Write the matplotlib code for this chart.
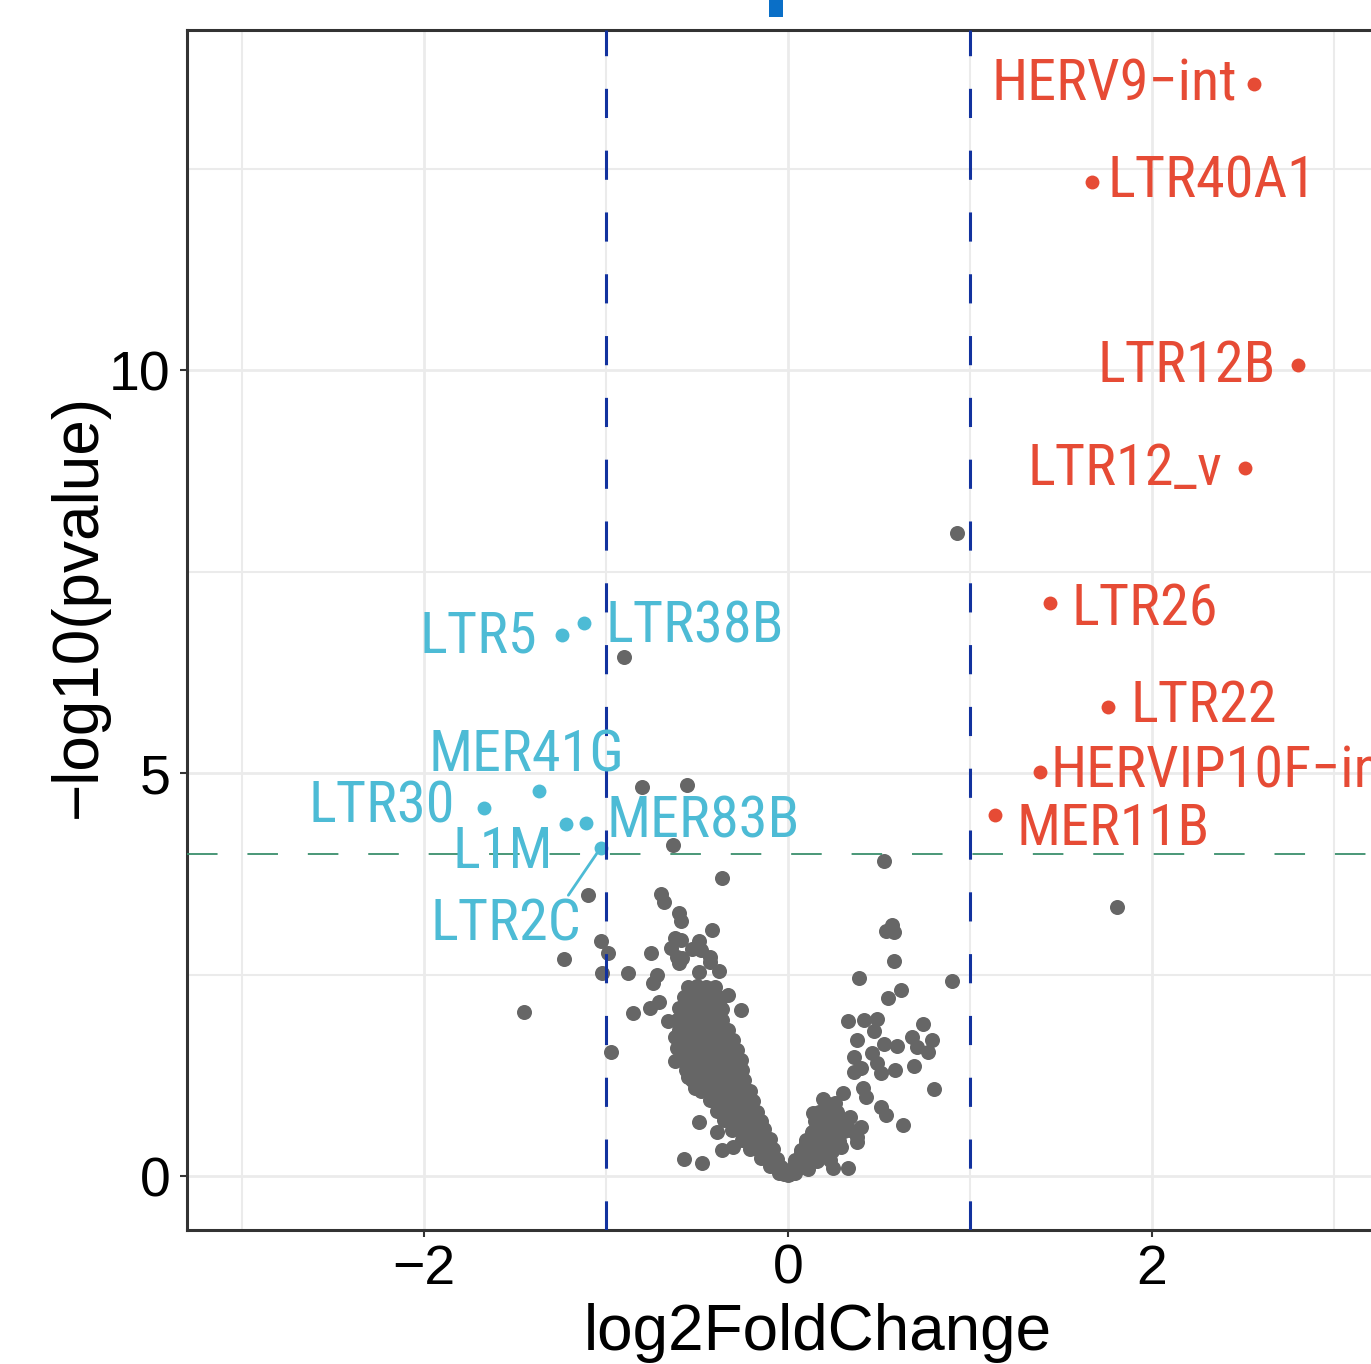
import matplotlib
matplotlib.use("Agg")
import matplotlib.pyplot as plt
from matplotlib import font_manager
from matplotlib.font_manager import FontProperties
from matplotlib.patches import Rectangle

# ---------------- data ----------------
# scattered non-significant points (log2FoldChange, -log10 p)
ns_x = [-0.90, -0.80, -0.555, -0.63, -0.36, -1.10, 0.53,
        -0.70, -0.68, -0.60, -0.59, -0.42, -0.62, -0.59, -0.64, -0.61, -0.58,
        -0.49, -0.53, -0.48, -0.43, -1.03, -0.99, -1.23, -0.75, -1.02, -0.88,
        -0.72, -0.74, -0.49, -0.38, -1.45, -0.85, -0.76, -0.71, -0.66, -0.26,
        -0.33, -0.97, -0.62, -0.61, -0.62, -0.49, -0.57, -0.47, -0.36, -0.30,
        -0.55, -0.51, -0.39, -0.60, -0.43,
        0.93, 1.81, 0.57, 0.54, 0.58, 0.58, 0.39, 0.90, 0.62, 0.55, 0.33, 0.42,
        0.49, 0.47, 0.74, 0.38, 0.53, 0.60, 0.68, 0.71, 0.79, 0.77, 0.36, 0.46,
        0.40, 0.49, 0.51, 0.36, 0.59, 0.69, 0.80, 0.41, 0.30, 0.43, 0.19, 0.51,
        0.54, 0.63, 0.34, 0.40, 0.38, 0.25, 0.33, 0.38, 0.14, 0.23, 0.27, 0.16,
        0.10, 0.07, 0.04, 0.19, 0.29, 0.14, 0.23, 0.34]
ns_y = [6.44, 4.83, 4.85, 4.11, 3.70, 3.49, 3.91,
        3.50, 3.40, 3.26, 3.16, 3.05, 2.95, 2.93, 2.83, 2.72, 2.70,
        2.92, 2.82, 2.80, 2.72, 2.92, 2.77, 2.69, 2.77, 2.52, 2.52,
        2.49, 2.39, 2.53, 2.54, 2.03, 2.02, 2.08, 2.16, 1.92, 2.06,
        2.25, 1.54, 1.72, 1.59, 1.43, 0.67, 0.21, 0.16, 0.32, 0.36,
        1.23, 1.09, 0.55, 2.64, 2.66,
        7.98, 3.34, 3.11, 3.04, 3.03, 2.67, 2.46, 2.42, 2.31, 2.21, 1.92, 1.94,
        1.95, 1.80, 1.89, 1.69, 1.64, 1.61, 1.72, 1.60, 1.69, 1.54, 1.48, 1.53,
        1.34, 1.40, 1.28, 1.29, 1.32, 1.36, 1.08, 1.09, 1.03, 0.98, 0.96, 0.86,
        0.76, 0.63, 0.73, 0.61, 0.42, 0.10, 0.10, 0.48, 0.78, 0.82, 0.61, 0.57,
        0.45, 0.32, 0.20, 0.36, 0.36, 0.24, 0.20, 0.57]

# dense core of the down-regulated arm
core_left_x = [-0.55, -0.50, -0.45, -0.40,
               -0.57, -0.52, -0.47, -0.42, -0.37,
               -0.60, -0.55, -0.50, -0.45, -0.40, -0.36,
               -0.61, -0.56, -0.51, -0.46, -0.41, -0.36,
               -0.60, -0.55, -0.50, -0.45, -0.40, -0.35, -0.33,
               -0.59, -0.54, -0.49, -0.44, -0.39, -0.34, -0.30,
               -0.59, -0.54, -0.49, -0.44, -0.38, -0.33, -0.28,
               -0.58, -0.53, -0.47, -0.42, -0.37, -0.31, -0.26,
               -0.56, -0.51, -0.46, -0.40, -0.35, -0.30, -0.25,
               -0.53, -0.48, -0.43, -0.38, -0.33, -0.28, -0.24,
               -0.48, -0.43, -0.38, -0.33, -0.28, -0.24, -0.21,
               -0.43, -0.38, -0.33, -0.29, -0.24, -0.19,
               -0.39, -0.34, -0.30, -0.26, -0.21, -0.17,
               -0.35, -0.31, -0.27, -0.23, -0.19, -0.15,
               -0.31, -0.27, -0.23, -0.18, -0.13,
               -0.25, -0.21, -0.17, -0.13, -0.10,
               -0.21, -0.17, -0.13, -0.08,
               -0.15, -0.11, -0.06,
               -0.10, -0.07, -0.04,
               -0.05, -0.02, 0.00]
core_left_y = [2.35, 2.36, 2.34, 2.35,
               2.22, 2.21, 2.23, 2.22, 2.21,
               2.08, 2.09, 2.07, 2.08, 2.09, 2.07,
               1.94, 1.95, 1.93, 1.94, 1.95, 1.93,
               1.81, 1.82, 1.80, 1.81, 1.82, 1.80, 1.81,
               1.69, 1.70, 1.68, 1.69, 1.70, 1.68, 1.69,
               1.56, 1.57, 1.55, 1.56, 1.57, 1.55, 1.56,
               1.44, 1.45, 1.43, 1.44, 1.45, 1.43, 1.44,
               1.31, 1.32, 1.30, 1.31, 1.32, 1.30, 1.31,
               1.19, 1.20, 1.18, 1.19, 1.20, 1.18, 1.19,
               1.06, 1.07, 1.05, 1.06, 1.07, 1.05, 1.06,
               0.94, 0.95, 0.93, 0.94, 0.95, 0.93,
               0.81, 0.82, 0.80, 0.81, 0.82, 0.80,
               0.69, 0.70, 0.68, 0.69, 0.70, 0.68,
               0.57, 0.58, 0.56, 0.57, 0.58,
               0.45, 0.46, 0.44, 0.45, 0.46,
               0.33, 0.34, 0.32, 0.33,
               0.22, 0.23, 0.21,
               0.12, 0.13, 0.11,
               0.04, 0.03, 0.01]

# dense core of the up-regulated arm
core_right_x = [0.01, 0.04,
                0.03, 0.07, 0.11,
                0.04, 0.08, 0.12, 0.16,
                0.07, 0.11, 0.15, 0.19, 0.24,
                0.10, 0.14, 0.19, 0.23, 0.28,
                0.13, 0.17, 0.22, 0.27, 0.31,
                0.15, 0.20, 0.25, 0.30,
                0.17, 0.22, 0.27,
                0.21, 0.26]
core_right_y = [0.03, 0.04,
                0.10, 0.11, 0.09,
                0.19, 0.18, 0.20, 0.19,
                0.30, 0.31, 0.29, 0.30, 0.31,
                0.42, 0.43, 0.41, 0.42, 0.43,
                0.55, 0.56, 0.54, 0.55, 0.56,
                0.68, 0.69, 0.67, 0.68,
                0.80, 0.81, 0.79,
                0.90, 0.91]

# significantly up-regulated (labelled)
up_names = ["HERV9\u2212int", "LTR40A1", "LTR12B", "LTR12_v", "LTR26",
            "LTR22", "HERVIP10F\u2212int", "MER11B"]
up_x = [2.56, 1.67, 2.80, 2.51, 1.44, 1.76, 1.385, 1.14]
up_y = [13.55, 12.33, 10.06, 8.78, 7.11, 5.82, 5.01, 4.48]

# significantly down-regulated (labelled)
down_names = ["LTR5", "LTR38B", "MER41G", "LTR30", "L1M", "MER83B", "LTR2C"]
down_x = [-1.24, -1.12, -1.37, -1.67, -1.22, -1.11, -1.03]
down_y = [6.71, 6.86, 4.78, 4.57, 4.37, 4.38, 4.07]

fc_cut = 1.0
p_cut = 4.0

x_ticks = [-2, 0, 2]
y_ticks = [0, 5, 10]

# ---------------- style ----------------
plt.rcParams['font.family'] = ['Liberation Sans', 'DejaVu Sans']
plt.rcParams['lines.scale_dashes'] = False

# find a narrow / condensed sans face for the point labels
def pick_condensed():
    prefs = ['Liberation Sans Narrow', 'Arial Narrow', 'Roboto Condensed',
             'Noto Sans Condensed', 'Open Sans Condensed', 'Noto Sans',
             'Roboto', 'Open Sans', 'DejaVu Sans']
    cands = []
    for f in font_manager.fontManager.ttflist:
        if f.style != 'normal':
            continue
        if f.weight not in (400, 'normal', 'regular', 'book'):
            continue
        nm = f.name
        fn = f.fname.lower()
        condensed = (f.stretch in ('condensed', 'semi-condensed',
                                   'extra-condensed', 'ultra-condensed')
                     or 'narrow' in nm.lower() or 'condensed' in nm.lower()
                     or 'narrow' in fn or ('condensed' in fn and 'semi' not in fn
                                           and 'extra' not in fn))
        if not condensed:
            continue
        if 'mono' in nm.lower() or 'serif' in nm.lower() and 'sans' not in nm.lower():
            continue
        rank = len(prefs)
        for i, p in enumerate(prefs):
            if nm.startswith(p):
                rank = i
                break
        cands.append((rank, f.fname))
    if cands:
        cands.sort()
        return FontProperties(fname=cands[0][1])
    return FontProperties(family=['Liberation Sans', 'DejaVu Sans'])

RED = '#E64B35'
CYAN = '#4DBBD5'
GRAY = '#666666'

W, H = 1371, 1364
fig = plt.figure(figsize=(W / 100, H / 100), dpi=100)
renderer = fig.canvas.get_renderer()

lab_fp = pick_condensed()
# size the label font so that "LTR40A1" is about as wide as in the reference
probe = fig.text(0, 0, "LTR40A1", fontproperties=lab_fp, fontsize=20)
wid = probe.get_window_extent(renderer).width
probe.remove()
lab_size = min(46.0, 20.0 * 209.0 / wid)
lab_fp.set_size(lab_size)

ax = fig.add_axes([187 / W, 1 - 1230 / H, 1201.6 / W, 1200 / H])
ax.set_xlim(-3.302, 3.30)
ax.set_ylim(-0.67, 14.22)

ax.set_axisbelow(True)
ax.set_xticks(x_ticks)
ax.set_yticks(y_ticks)
ax.set_xticks([-3, -1, 1, 3], minor=True)
ax.set_yticks([2.5, 7.5, 12.5], minor=True)
ax.grid(which='major', color='#EBEBEB', lw=2.0)
ax.grid(which='minor', color='#EBEBEB', lw=1.5)
ax.tick_params(which='minor', length=0)
ax.tick_params(which='major', length=5, width=1.5, color='#333333',
               labelsize=40, labelcolor='black')
ax.tick_params(axis='x', pad=5)
ax.tick_params(axis='y', pad=7)
for s in ax.spines.values():
    s.set_color('#333333')
    s.set_linewidth(2.2)

# points
ax.scatter(core_left_x, core_left_y, s=117, color=GRAY, linewidths=0, zorder=2)
ax.scatter(core_right_x, core_right_y, s=117, color=GRAY, linewidths=0, zorder=2)
ax.scatter(ns_x, ns_y, s=117, color=GRAY, linewidths=0, zorder=2)
ax.scatter(up_x, up_y, s=100, color=RED, linewidths=0, zorder=3)
ax.scatter(down_x, down_y, s=100, color=CYAN, linewidths=0, zorder=3)

# threshold lines
for v in (-fc_cut, fc_cut):
    ax.axvline(v, color='#12329e', lw=2.2, ls=(0, (21, 23.5)), zorder=3.5)
ax.axhline(p_cut, color='#3A8F6C', lw=1.3, ls=(0, (22, 21.5)), zorder=3.5)

# label placement (pixel offsets from the point, ha)
up_offsets = [(-17, -17, 'right'), (16, -15, 'left'), (-22, -17, 'right'),
              (-22, -17, 'right'), (21, -22, 'left'), (22, -15, 'left'),
              (10, -15, 'left'), (21, -30, 'left')]
down_offsets = [(-25, -17, 'right'), (21, -19, 'left'), (86, 19, 'right'),
                (-29, -15, 'right'), (-13, -44, 'right'), (21, -14, 'left'),
                (-19, -93, 'right')]

for name, x, y, (dx, dy, ha) in zip(up_names, up_x, up_y, up_offsets):
    ax.annotate(name, (x, y), xytext=(dx, dy), textcoords='offset pixels',
                ha=ha, va='baseline', color=RED, fontproperties=lab_fp,
                zorder=4, annotation_clip=False)

for name, x, y, (dx, dy, ha) in zip(down_names, down_x, down_y, down_offsets):
    kw = {}
    if name == "LTR2C":
        kw['arrowprops'] = dict(arrowstyle='-', color=CYAN, lw=2.0,
                                shrinkA=0, shrinkB=0, relpos=(0.9, 1.0))
    ax.annotate(name, (x, y), xytext=(dx, dy), textcoords='offset pixels',
                ha=ha, va='baseline', color=CYAN, fontproperties=lab_fp,
                zorder=4, **kw)

# axis titles
fig.text(818 / W, 1 - 1350 / H, 'log2FoldChange', ha='center', va='baseline',
         fontsize=46, color='black')
fig.text(79 / W, 1 - 606 / H, '\u2212log10(pvalue)', ha='center', va='center',
         rotation=90, fontsize=46, color='black')

# fragment of the (cropped) title above the panel
fig.add_artist(Rectangle((769 / W, 1 - 17 / H), 14 / W, 17 / H,
                         transform=fig.transFigure, color='#0a6fc7', lw=0))

fig.savefig('out.png', dpi=100)
